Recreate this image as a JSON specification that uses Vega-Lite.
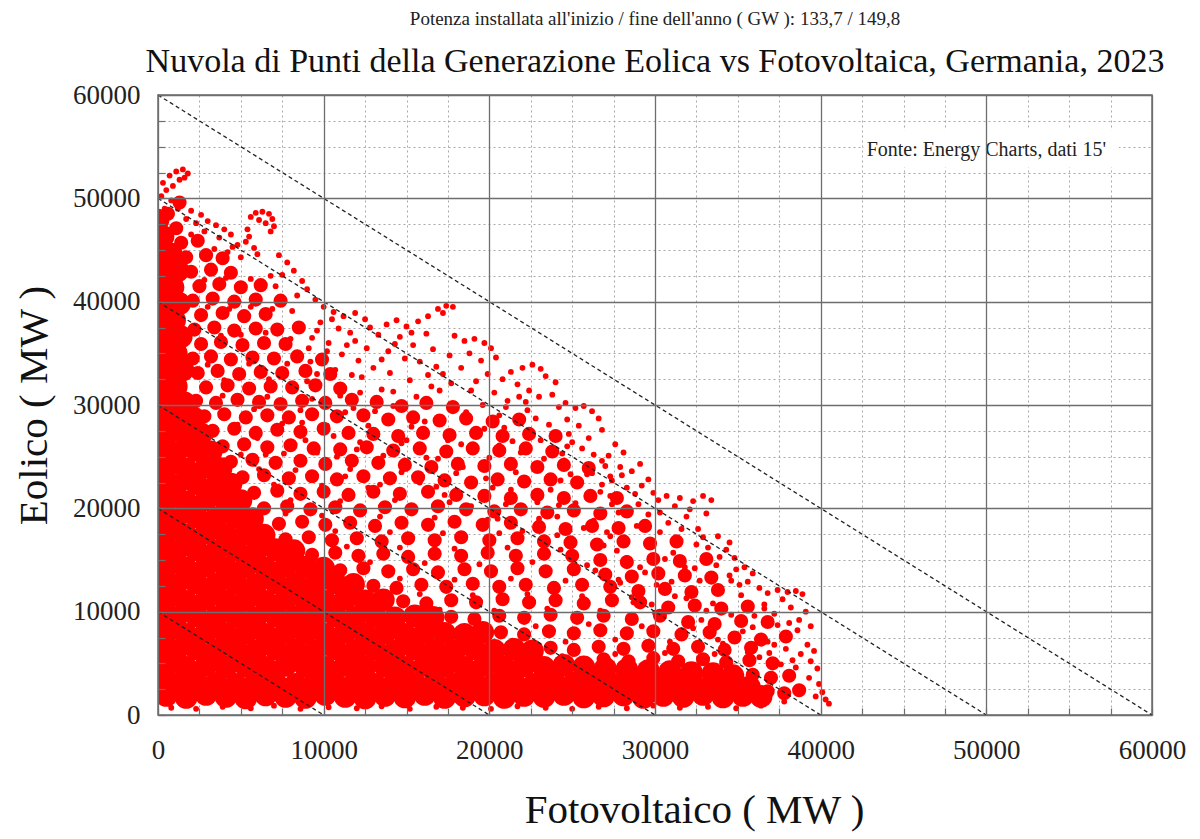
{
  "$schema": "https://vega.github.io/schema/vega-lite/v6.json",
  "autosize": {"type": "none"},
  "width": 994,
  "height": 620,
  "padding": {"left": 158, "top": 95, "right": 48, "bottom": 124},
  "background": "white",
  "title": {
    "text": "Potenza installata all'inizio / fine dell'anno ( GW ): 133,7 / 149,8",
    "subtitle": "Nuvola di Punti della Generazione Eolica vs Fotovoltaica, Germania, 2023",
    "font": "Liberation Serif",
    "fontSize": 19,
    "fontWeight": "normal",
    "color": "#222",
    "subtitleFont": "Liberation Serif",
    "subtitleFontSize": 34,
    "subtitleColor": "#111",
    "subtitlePadding": 16,
    "anchor": "middle",
    "offset": 2
  },
  "datasets": {
    "denso": [
      {"fv":500,"eo":1900},{"fv":1700,"eo":1700},{"fv":2900,"eo":2000},{"fv":4100,"eo":1800},{"fv":5300,"eo":1650},{"fv":6500,"eo":1950},{"fv":7700,"eo":1800},{"fv":8900,"eo":1700},{"fv":10100,"eo":2000},{"fv":11300,"eo":1800},{"fv":12500,"eo":1650},{"fv":13700,"eo":1900},{"fv":14900,"eo":1750},{"fv":16100,"eo":2000},{"fv":17300,"eo":1700},{"fv":18500,"eo":1850},{"fv":19700,"eo":1950},{"fv":20900,"eo":1700},{"fv":22100,"eo":1900},{"fv":23300,"eo":1800},{"fv":24500,"eo":2000},{"fv":25700,"eo":1750},{"fv":26900,"eo":1850},{"fv":28100,"eo":1950},{"fv":29300,"eo":1700},{"fv":30500,"eo":1900},{"fv":31700,"eo":1800},{"fv":32900,"eo":2000},{"fv":34100,"eo":1750},{"fv":35300,"eo":1900},{"fv":36400,"eo":1800},
      {"fv":0,"eo":3100},{"fv":1100,"eo":3000},{"fv":2300,"eo":3250},{"fv":3500,"eo":3050},{"fv":4700,"eo":2950},{"fv":5900,"eo":3200},{"fv":7100,"eo":3100},{"fv":8300,"eo":2950},{"fv":9500,"eo":3200},{"fv":10700,"eo":3050},{"fv":11900,"eo":3150},{"fv":13100,"eo":2950},{"fv":14300,"eo":3200},{"fv":15500,"eo":3050},{"fv":16700,"eo":3150},{"fv":17900,"eo":2950},{"fv":19100,"eo":3200},{"fv":20300,"eo":3050},{"fv":21500,"eo":3150},{"fv":22700,"eo":2950},{"fv":23900,"eo":3200},{"fv":25100,"eo":3050},{"fv":26300,"eo":3150},{"fv":27500,"eo":2950},{"fv":28700,"eo":3200},{"fv":29900,"eo":3050},{"fv":31100,"eo":3150},{"fv":32300,"eo":2950},{"fv":33500,"eo":3150},{"fv":34600,"eo":2900},{"fv":35700,"eo":2700},
      {"fv":500,"eo":4700},{"fv":1700,"eo":4600},{"fv":2900,"eo":4800},{"fv":4100,"eo":4650},{"fv":5300,"eo":4750},{"fv":6500,"eo":4600},{"fv":7700,"eo":4800},{"fv":8900,"eo":4700},{"fv":10100,"eo":4600},{"fv":11300,"eo":4800},{"fv":12500,"eo":4650},{"fv":13700,"eo":4750},{"fv":14900,"eo":4600},{"fv":16100,"eo":4800},{"fv":17300,"eo":4700},{"fv":18500,"eo":4600},{"fv":19700,"eo":4800},{"fv":20900,"eo":4650},{"fv":22100,"eo":4750},{"fv":23300,"eo":4600},{"fv":24500,"eo":4800},{"fv":25700,"eo":4650},{"fv":27000,"eo":4500},{"fv":28300,"eo":4400},{"fv":29600,"eo":4300},{"fv":30900,"eo":4200},{"fv":32200,"eo":4100},{"fv":33500,"eo":4000},{"fv":34700,"eo":3800},
      {"fv":0,"eo":6300},{"fv":1100,"eo":6200},{"fv":2300,"eo":6400},{"fv":3500,"eo":6250},{"fv":4700,"eo":6350},{"fv":5900,"eo":6200},{"fv":7100,"eo":6400},{"fv":8300,"eo":6300},{"fv":9500,"eo":6200},{"fv":10700,"eo":6400},{"fv":11900,"eo":6250},{"fv":13100,"eo":6350},{"fv":14300,"eo":6200},{"fv":15500,"eo":6400},{"fv":16700,"eo":6300},{"fv":17900,"eo":6200},{"fv":19100,"eo":6400},{"fv":20300,"eo":6250},{"fv":21500,"eo":6350},{"fv":22600,"eo":6200},
      {"fv":500,"eo":7900},{"fv":1700,"eo":7800},{"fv":2900,"eo":8000},{"fv":4100,"eo":7850},{"fv":5300,"eo":7950},{"fv":6500,"eo":7800},{"fv":7700,"eo":8000},{"fv":8900,"eo":7900},{"fv":10100,"eo":7800},{"fv":11300,"eo":8000},{"fv":12500,"eo":7850},{"fv":13700,"eo":7950},{"fv":14900,"eo":7800},{"fv":16100,"eo":8000},{"fv":17300,"eo":7900},{"fv":18500,"eo":7800},{"fv":19600,"eo":8000},
      {"fv":0,"eo":9500},{"fv":1100,"eo":9400},{"fv":2300,"eo":9600},{"fv":3500,"eo":9450},{"fv":4700,"eo":9550},{"fv":5900,"eo":9400},{"fv":7100,"eo":9600},{"fv":8300,"eo":9500},{"fv":9500,"eo":9400},{"fv":10700,"eo":9600},{"fv":11900,"eo":9450},{"fv":13100,"eo":9550},{"fv":14300,"eo":9400},{"fv":15500,"eo":9600},{"fv":16600,"eo":9450},
      {"fv":500,"eo":11100},{"fv":1700,"eo":11000},{"fv":2900,"eo":11200},{"fv":4100,"eo":11050},{"fv":5300,"eo":11150},{"fv":6500,"eo":11000},{"fv":7700,"eo":11200},{"fv":8900,"eo":11100},{"fv":10100,"eo":11000},{"fv":11300,"eo":11200},{"fv":12500,"eo":11050},{"fv":13600,"eo":11150},
      {"fv":0,"eo":12700},{"fv":1100,"eo":12600},{"fv":2300,"eo":12800},{"fv":3500,"eo":12650},{"fv":4700,"eo":12750},{"fv":5900,"eo":12600},{"fv":7100,"eo":12800},{"fv":8300,"eo":12700},{"fv":9500,"eo":12600},{"fv":10700,"eo":12800},{"fv":11800,"eo":12650},
      {"fv":500,"eo":14300},{"fv":1700,"eo":14200},{"fv":2900,"eo":14400},{"fv":4100,"eo":14250},{"fv":5300,"eo":14350},{"fv":6500,"eo":14200},{"fv":7700,"eo":14400},{"fv":8900,"eo":14300},{"fv":10000,"eo":14200},
      {"fv":0,"eo":15900},{"fv":1100,"eo":15800},{"fv":2300,"eo":16000},{"fv":3500,"eo":15850},{"fv":4700,"eo":15950},{"fv":5900,"eo":15800},{"fv":7100,"eo":16000},{"fv":8200,"eo":15900},
      {"fv":500,"eo":17500},{"fv":1700,"eo":17400},{"fv":2900,"eo":17600},{"fv":4100,"eo":17450},{"fv":5300,"eo":17550},{"fv":6400,"eo":17400},
      {"fv":0,"eo":19100},{"fv":1100,"eo":19000},{"fv":2300,"eo":19200},{"fv":3500,"eo":19050},{"fv":4700,"eo":19150},{"fv":5700,"eo":19000},
      {"fv":500,"eo":20700},{"fv":1700,"eo":20600},{"fv":2900,"eo":20800},{"fv":4100,"eo":20650},{"fv":5000,"eo":20750},
      {"fv":0,"eo":22300},{"fv":1100,"eo":22200},{"fv":2300,"eo":22400},{"fv":3500,"eo":22250},{"fv":4400,"eo":22350},
      {"fv":500,"eo":23900},{"fv":1700,"eo":23800},{"fv":2900,"eo":24000},{"fv":3800,"eo":23850},
      {"fv":0,"eo":25500},{"fv":1100,"eo":25400},{"fv":2300,"eo":25600},{"fv":3200,"eo":25450},
      {"fv":500,"eo":27100},{"fv":1700,"eo":27000},{"fv":2600,"eo":27200},
      {"fv":0,"eo":28700},{"fv":1100,"eo":28600},{"fv":2100,"eo":28800},
      {"fv":500,"eo":30300},{"fv":1600,"eo":30200},
      {"fv":0,"eo":31900},{"fv":1100,"eo":31800},
      {"fv":500,"eo":33500},{"fv":1500,"eo":33400},
      {"fv":0,"eo":35100},{"fv":1100,"eo":35000},
      {"fv":500,"eo":36700},{"fv":1400,"eo":36600},
      {"fv":0,"eo":38300},{"fv":1000,"eo":38200},
      {"fv":500,"eo":39900},{"fv":1300,"eo":39800},
      {"fv":0,"eo":41500},{"fv":900,"eo":41400},
      {"fv":400,"eo":43100},{"fv":1200,"eo":43000},
      {"fv":0,"eo":44700},{"fv":800,"eo":44600},
      {"fv":300,"eo":46300},{"fv":0,"eo":47900}
    ],
    "medio": [
      {"fv":3300,"eo":27500},{"fv":4600,"eo":27700},{"fv":5900,"eo":27300},{"fv":7200,"eo":27600},{"fv":8600,"eo":27400},{"fv":10000,"eo":27700},{"fv":11500,"eo":27300},
      {"fv":2800,"eo":28900},{"fv":4000,"eo":29100},{"fv":5300,"eo":28800},{"fv":6600,"eo":29000},{"fv":7900,"eo":28800},{"fv":9300,"eo":29100},{"fv":10800,"eo":28900},{"fv":12400,"eo":29000},
      {"fv":2300,"eo":30400},{"fv":3500,"eo":30200},{"fv":4800,"eo":30500},{"fv":6100,"eo":30300},{"fv":7400,"eo":30100},{"fv":8700,"eo":30400},{"fv":10100,"eo":30200},{"fv":11700,"eo":30500},{"fv":13200,"eo":30300},
      {"fv":2900,"eo":31700},{"fv":4200,"eo":31900},{"fv":5500,"eo":31600},{"fv":6800,"eo":31800},{"fv":8100,"eo":31700},{"fv":9500,"eo":31900},{"fv":11000,"eo":31600},
      {"fv":2400,"eo":33100},{"fv":3600,"eo":33300},{"fv":4900,"eo":33000},{"fv":6200,"eo":33200},{"fv":7500,"eo":33100},{"fv":8900,"eo":33300},{"fv":10400,"eo":33000},
      {"fv":2100,"eo":34500},{"fv":3200,"eo":34700},{"fv":4400,"eo":34400},{"fv":5700,"eo":34600},{"fv":7000,"eo":34500},{"fv":8400,"eo":34700},{"fv":9900,"eo":34400},
      {"fv":2600,"eo":35900},{"fv":3800,"eo":36100},{"fv":5100,"eo":35800},{"fv":6400,"eo":36000},{"fv":7700,"eo":35900},
      {"fv":2200,"eo":37300},{"fv":3400,"eo":37500},{"fv":4600,"eo":37200},{"fv":5900,"eo":37400},{"fv":7200,"eo":37300},{"fv":8500,"eo":37500},
      {"fv":2600,"eo":38700},{"fv":3900,"eo":38900},{"fv":5200,"eo":38600},{"fv":6500,"eo":38800},
      {"fv":2100,"eo":40100},{"fv":3300,"eo":40300},{"fv":4600,"eo":40000},{"fv":5900,"eo":40200},{"fv":7400,"eo":40100},
      {"fv":2500,"eo":41500},{"fv":3700,"eo":41700},{"fv":5000,"eo":41400},{"fv":6200,"eo":41600},
      {"fv":2000,"eo":42900},{"fv":3200,"eo":43100},{"fv":4400,"eo":42800},
      {"fv":1700,"eo":44300},{"fv":2900,"eo":44500},{"fv":3900,"eo":44200},
      {"fv":1400,"eo":45700},{"fv":2400,"eo":45900},{"fv":1100,"eo":47100},{"fv":600,"eo":48500},{"fv":1300,"eo":49600},
      {"fv":3900,"eo":26000},{"fv":5200,"eo":26200},{"fv":6600,"eo":25900},{"fv":8000,"eo":26100},{"fv":9400,"eo":25800},
      {"fv":4400,"eo":24500},{"fv":5700,"eo":24700},{"fv":7100,"eo":24400},{"fv":8600,"eo":24600},{"fv":10100,"eo":24300},{"fv":11700,"eo":24600},{"fv":13300,"eo":24400},
      {"fv":5100,"eo":23000},{"fv":6400,"eo":23200},{"fv":7900,"eo":22900},{"fv":9300,"eo":23100},{"fv":10800,"eo":22800},{"fv":12400,"eo":23100},{"fv":14000,"eo":22900},{"fv":15700,"eo":23000},
      {"fv":5800,"eo":21500},{"fv":7200,"eo":21700},{"fv":8600,"eo":21400},{"fv":10000,"eo":21600},{"fv":11500,"eo":21300},{"fv":13000,"eo":21600},{"fv":14600,"eo":21400},{"fv":16300,"eo":21600},{"fv":18000,"eo":21300},
      {"fv":6400,"eo":20000},{"fv":7800,"eo":20200},{"fv":9200,"eo":19900},{"fv":10700,"eo":20100},{"fv":12200,"eo":19800},{"fv":13700,"eo":20100},{"fv":15300,"eo":19900},{"fv":16900,"eo":20200},{"fv":18600,"eo":19900},
      {"fv":7300,"eo":18500},{"fv":8700,"eo":18700},{"fv":10100,"eo":18400},{"fv":11600,"eo":18600},{"fv":13100,"eo":18300},{"fv":14700,"eo":18600},{"fv":16300,"eo":18400},{"fv":17900,"eo":18700},{"fv":19600,"eo":18400},{"fv":21300,"eo":18600},
      {"fv":7700,"eo":17000},{"fv":9100,"eo":17200},{"fv":10500,"eo":16900},{"fv":12000,"eo":17100},{"fv":13500,"eo":16800},{"fv":15100,"eo":17100},{"fv":16700,"eo":16900},{"fv":18300,"eo":17200},{"fv":20000,"eo":16900},{"fv":21700,"eo":17100},{"fv":23300,"eo":16800},
      {"fv":9300,"eo":15500},{"fv":10700,"eo":15700},{"fv":12100,"eo":15400},{"fv":13600,"eo":15600},{"fv":15100,"eo":15300},{"fv":16700,"eo":15600},{"fv":18300,"eo":15400},{"fv":19900,"eo":15700},{"fv":21600,"eo":15400},{"fv":23300,"eo":15600},{"fv":25000,"eo":15400},
      {"fv":11000,"eo":14000},{"fv":12400,"eo":14200},{"fv":13900,"eo":13900},{"fv":15400,"eo":14100},{"fv":16900,"eo":13800},{"fv":18500,"eo":14100},{"fv":20100,"eo":13900},{"fv":21700,"eo":14200},{"fv":23400,"eo":13900},{"fv":25100,"eo":14100},
      {"fv":13000,"eo":12500},{"fv":14400,"eo":12300},{"fv":15900,"eo":12600},{"fv":17400,"eo":12400},{"fv":19000,"eo":12700},{"fv":20600,"eo":12400},{"fv":22200,"eo":12600},{"fv":23900,"eo":12300},{"fv":25600,"eo":12600},{"fv":27300,"eo":12400},
      {"fv":14800,"eo":11000},{"fv":16200,"eo":10800},{"fv":17700,"eo":11100},{"fv":19200,"eo":10900},{"fv":20800,"eo":11200},{"fv":22400,"eo":10900},{"fv":24000,"eo":11100},{"fv":25700,"eo":10800},{"fv":27400,"eo":11100},{"fv":29100,"eo":10900},
      {"fv":17700,"eo":9500},{"fv":19100,"eo":9300},{"fv":20600,"eo":9600},{"fv":22100,"eo":9400},{"fv":23700,"eo":9700},{"fv":25300,"eo":9400},{"fv":26900,"eo":9600},{"fv":28600,"eo":9300},{"fv":30300,"eo":9600},
      {"fv":20700,"eo":8000},{"fv":22100,"eo":7800},{"fv":23600,"eo":8100},{"fv":25100,"eo":7900},{"fv":26700,"eo":8200},{"fv":28300,"eo":7900},{"fv":29900,"eo":8100},{"fv":31600,"eo":7800},{"fv":33300,"eo":8000},
      {"fv":23700,"eo":6500},{"fv":25100,"eo":6300},{"fv":26600,"eo":6600},{"fv":28100,"eo":6400},{"fv":29600,"eo":6700},{"fv":31100,"eo":6400},{"fv":32600,"eo":6600},{"fv":34200,"eo":6300},{"fv":35800,"eo":6500},
      {"fv":26900,"eo":5400},{"fv":28400,"eo":5200},{"fv":29900,"eo":5500},{"fv":31400,"eo":5200},{"fv":32900,"eo":5400},{"fv":34300,"eo":5100},{"fv":35700,"eo":5300},{"fv":37100,"eo":5000},
      {"fv":35900,"eo":3900},{"fv":37000,"eo":3600},{"fv":38100,"eo":3800},{"fv":36800,"eo":2300},{"fv":37800,"eo":2100},{"fv":38700,"eo":2400},
      {"fv":14700,"eo":29900},{"fv":16200,"eo":30200},{"fv":17800,"eo":29800},
      {"fv":13900,"eo":28600},{"fv":15400,"eo":28800},{"fv":17000,"eo":28500},{"fv":18600,"eo":28700},{"fv":20200,"eo":28400},{"fv":21800,"eo":28600},
      {"fv":13000,"eo":27200},{"fv":14500,"eo":27000},{"fv":16000,"eo":27300},{"fv":17600,"eo":27100},{"fv":19200,"eo":27300},{"fv":20800,"eo":27000},{"fv":22400,"eo":27200},{"fv":24000,"eo":27000},
      {"fv":11000,"eo":25700},{"fv":12600,"eo":25900},{"fv":14200,"eo":25600},{"fv":15800,"eo":25800},{"fv":17400,"eo":25500},{"fv":19000,"eo":25800},{"fv":20600,"eo":25600},{"fv":22200,"eo":25800},{"fv":23800,"eo":25500},
      {"fv":14900,"eo":24200},{"fv":16500,"eo":24000},{"fv":18100,"eo":24300},{"fv":19700,"eo":24100},{"fv":21300,"eo":24300},{"fv":22900,"eo":24000},{"fv":24500,"eo":24200},{"fv":26000,"eo":23900},
      {"fv":17300,"eo":22700},{"fv":18900,"eo":22500},{"fv":20500,"eo":22800},{"fv":22100,"eo":22600},{"fv":23700,"eo":22800},{"fv":25300,"eo":22500},
      {"fv":19700,"eo":21200},{"fv":21300,"eo":21000},{"fv":22900,"eo":21300},{"fv":24500,"eo":21000},{"fv":26100,"eo":21200},{"fv":27700,"eo":21000},
      {"fv":20300,"eo":19700},{"fv":21900,"eo":19900},{"fv":23500,"eo":19600},{"fv":25100,"eo":19800},{"fv":26700,"eo":19500},{"fv":28300,"eo":19700},
      {"fv":23000,"eo":18200},{"fv":24600,"eo":18000},{"fv":26200,"eo":18300},{"fv":27800,"eo":18100},{"fv":29400,"eo":18300},
      {"fv":24900,"eo":16700},{"fv":26500,"eo":16500},{"fv":28100,"eo":16800},{"fv":29700,"eo":16600},{"fv":31300,"eo":16800},
      {"fv":26700,"eo":15000},{"fv":28300,"eo":14800},{"fv":29900,"eo":15100},{"fv":31500,"eo":14900},{"fv":33100,"eo":15100},
      {"fv":27000,"eo":13600},{"fv":28600,"eo":13400},{"fv":30200,"eo":13700},{"fv":31800,"eo":13500},{"fv":33400,"eo":13300},
      {"fv":29000,"eo":12000},{"fv":30600,"eo":12200},{"fv":32200,"eo":11900},{"fv":33800,"eo":12100},
      {"fv":30800,"eo":10400},{"fv":32400,"eo":10600},{"fv":34000,"eo":10300},{"fv":35600,"eo":10500},
      {"fv":32000,"eo":9000},{"fv":33600,"eo":8800},{"fv":35200,"eo":9100},{"fv":36800,"eo":9000},
      {"fv":34800,"eo":7500},{"fv":36400,"eo":7300},{"fv":37900,"eo":7600}
    ],
    "sparso": [
      {"fv":300,"eo":51500},{"fv":700,"eo":52200},{"fv":1100,"eo":52600},{"fv":1500,"eo":52800},{"fv":1800,"eo":52400},{"fv":1300,"eo":51800},{"fv":500,"eo":50800},{"fv":900,"eo":51200},{"fv":200,"eo":50200},{"fv":1600,"eo":52000},{"fv":800,"eo":49800},{"fv":400,"eo":49000},
      {"fv":1200,"eo":49000},{"fv":2000,"eo":48800},{"fv":2600,"eo":48400},{"fv":1700,"eo":48000},{"fv":2300,"eo":47600},{"fv":3000,"eo":47800},{"fv":3500,"eo":47400},{"fv":2800,"eo":46800},{"fv":4000,"eo":47000},{"fv":4400,"eo":46500},{"fv":3700,"eo":46200},
      {"fv":5600,"eo":48200},{"fv":5900,"eo":48600},{"fv":6300,"eo":48700},{"fv":6700,"eo":48500},{"fv":6900,"eo":48000},{"fv":7000,"eo":47300},{"fv":6500,"eo":47600},{"fv":6100,"eo":47900},{"fv":5400,"eo":47000},{"fv":6800,"eo":46800},
      {"fv":4800,"eo":45500},{"fv":5300,"eo":45800},{"fv":5800,"eo":45200},{"fv":4200,"eo":44800},{"fv":5000,"eo":44300},{"fv":6000,"eo":44600},{"fv":5500,"eo":46300},
      {"fv":7300,"eo":44500},{"fv":7800,"eo":43800},{"fv":8200,"eo":43000},{"fv":7500,"eo":42600},{"fv":8700,"eo":42000},{"fv":7100,"eo":41500},{"fv":9000,"eo":41200},{"fv":8400,"eo":40600},
      {"fv":9500,"eo":40200},{"fv":10000,"eo":39500},{"fv":10600,"eo":39000},{"fv":11200,"eo":38600},{"fv":11900,"eo":38900},{"fv":12500,"eo":38300},{"fv":9800,"eo":38000},{"fv":10900,"eo":37400},{"fv":11600,"eo":37000},{"fv":12800,"eo":37500},{"fv":13300,"eo":36800},{"fv":9300,"eo":36500},{"fv":10300,"eo":36000},
      {"fv":13800,"eo":37800},{"fv":14400,"eo":38200},{"fv":15000,"eo":37600},{"fv":15700,"eo":38100},{"fv":16300,"eo":38600},{"fv":16900,"eo":39300},{"fv":17400,"eo":39600},{"fv":17800,"eo":39500},{"fv":17200,"eo":38900},{"fv":14600,"eo":36600},{"fv":15400,"eo":35800},{"fv":16200,"eo":36900},{"fv":13900,"eo":35200},{"fv":14900,"eo":34500},
      {"fv":18500,"eo":36200},{"fv":19100,"eo":36400},{"fv":19700,"eo":36000},{"fv":20100,"eo":35500},{"fv":18800,"eo":35000},{"fv":19500,"eo":34300},{"fv":20400,"eo":34600},{"fv":18300,"eo":33600},{"fv":19900,"eo":33000},{"fv":20800,"eo":32500},{"fv":17600,"eo":34800},{"fv":16800,"eo":33700},
      {"fv":21300,"eo":33200},{"fv":22000,"eo":33600},{"fv":22600,"eo":33900},{"fv":23100,"eo":33500},{"fv":23400,"eo":32800},{"fv":21700,"eo":32000},{"fv":22400,"eo":31400},{"fv":23000,"eo":30800},{"fv":21100,"eo":30400},{"fv":23800,"eo":31000},{"fv":22300,"eo":29500},{"fv":20600,"eo":29000},{"fv":24200,"eo":29800},
      {"fv":24600,"eo":30200},{"fv":25200,"eo":29700},{"fv":25700,"eo":29900},{"fv":26200,"eo":29400},{"fv":26600,"eo":28700},{"fv":25400,"eo":28000},{"fv":24800,"eo":27200},{"fv":26000,"eo":26800},{"fv":26800,"eo":27600},{"fv":25600,"eo":25800},{"fv":24400,"eo":25300},{"fv":27200,"eo":25100},
      {"fv":27600,"eo":26200},{"fv":28100,"eo":25400},{"fv":27900,"eo":24000},{"fv":28600,"eo":23600},{"fv":29100,"eo":24300},{"fv":29600,"eo":22800},{"fv":28300,"eo":22000},{"fv":27400,"eo":22700},{"fv":29900,"eo":21500},{"fv":30200,"eo":20800},{"fv":29000,"eo":20400},
      {"fv":30700,"eo":21200},{"fv":31500,"eo":21000},{"fv":32300,"eo":20700},{"fv":32900,"eo":21200},{"fv":33400,"eo":20800},{"fv":33100,"eo":19500},{"fv":31900,"eo":19200},{"fv":30800,"eo":18600},{"fv":32600,"eo":18000},{"fv":33800,"eo":17300},{"fv":31300,"eo":16800},{"fv":33200,"eo":16200},
      {"fv":34300,"eo":16000},{"fv":34800,"eo":15200},{"fv":35400,"eo":14300},{"fv":35900,"eo":13700},{"fv":34500,"eo":13500},{"fv":33700,"eo":14500},{"fv":35100,"eo":12600},{"fv":36300,"eo":12300},{"fv":34000,"eo":12000},
      {"fv":36800,"eo":11800},{"fv":37400,"eo":12100},{"fv":38000,"eo":11900},{"fv":38500,"eo":12000},{"fv":38900,"eo":11700},{"fv":37700,"eo":11200},{"fv":36600,"eo":10700},{"fv":38200,"eo":10400},{"fv":39100,"eo":10000},{"fv":37200,"eo":9800},{"fv":36000,"eo":9600},{"fv":38700,"eo":9200},{"fv":39400,"eo":8600},{"fv":38600,"eo":8200},{"fv":37400,"eo":8700},{"fv":35600,"eo":10800},
      {"fv":39200,"eo":6800},{"fv":39600,"eo":6200},{"fv":38800,"eo":5900},{"fv":39400,"eo":5200},{"fv":39800,"eo":4500},{"fv":38500,"eo":4600},{"fv":39300,"eo":3600},{"fv":39900,"eo":3000},{"fv":40100,"eo":2200},{"fv":40300,"eo":1500},{"fv":40500,"eo":1100},{"fv":39700,"eo":1800},{"fv":38900,"eo":2600},
      {"fv":9200,"eo":34200},{"fv":10700,"eo":33400},{"fv":12300,"eo":32700},{"fv":13500,"eo":31500},{"fv":11800,"eo":29700},{"fv":14200,"eo":29900},{"fv":15600,"eo":30800},{"fv":17000,"eo":31400},{"fv":16100,"eo":28400},{"fv":18600,"eo":29300},{"fv":19700,"eo":27700},{"fv":17500,"eo":26600},{"fv":20600,"eo":26100},{"fv":21900,"eo":25400},{"fv":23100,"eo":26600},{"fv":22700,"eo":24200},{"fv":24300,"eo":22700},{"fv":25900,"eo":23300},{"fv":26700,"eo":21600},{"fv":25200,"eo":20500},{"fv":27800,"eo":19600},{"fv":28900,"eo":18300},{"fv":27100,"eo":17700},{"fv":29800,"eo":16600},{"fv":30600,"eo":15100},{"fv":31800,"eo":14300},{"fv":32700,"eo":13000},{"fv":30100,"eo":12600},{"fv":31200,"eo":11500},{"fv":33500,"eo":10800},{"fv":34600,"eo":9700},{"fv":32800,"eo":9200},{"fv":35300,"eo":8100},{"fv":36800,"eo":7100},{"fv":37900,"eo":6400},{"fv":36300,"eo":5600},{"fv":37600,"eo":4900},{"fv":34100,"eo":6900},{"fv":35600,"eo":6100},
      {"fv":13000,"eo":27600},{"fv":14700,"eo":26300},{"fv":16200,"eo":24900},{"fv":18400,"eo":24000},{"fv":19800,"eo":22900},{"fv":21300,"eo":21800},{"fv":22900,"eo":20600},{"fv":24100,"eo":19200},{"fv":25700,"eo":18100},{"fv":26900,"eo":16400},{"fv":28300,"eo":15200},{"fv":29400,"eo":13800},{"fv":27400,"eo":12400},{"fv":28700,"eo":10900},{"fv":30000,"eo":9900},{"fv":15800,"eo":22500},{"fv":17300,"eo":21300},{"fv":18900,"eo":20200},{"fv":20500,"eo":19000},{"fv":22000,"eo":17800},{"fv":23500,"eo":16700},{"fv":25000,"eo":15300},{"fv":26400,"eo":14000},{"fv":27800,"eo":13100},{"fv":12000,"eo":25700},{"fv":10600,"eo":27000},{"fv":8700,"eo":28300},{"fv":11300,"eo":23100},{"fv":12700,"eo":22000},{"fv":9600,"eo":25400},{"fv":6500,"eo":25200},{"fv":5000,"eo":22800},{"fv":7700,"eo":19500},{"fv":3200,"eo":21400},{"fv":2600,"eo":24200},
      {"fv":6000,"eo":26800},{"fv":8900,"eo":26600},{"fv":12200,"eo":26400},{"fv":15000,"eo":26600},{"fv":18300,"eo":26200},{"fv":21400,"eo":26500},{"fv":24700,"eo":26000},
      {"fv":5000,"eo":25200},{"fv":7600,"eo":25300},{"fv":10800,"eo":25000},{"fv":13600,"eo":25100},{"fv":16900,"eo":24800},{"fv":20000,"eo":24900},{"fv":23300,"eo":24800},{"fv":26800,"eo":24600},
      {"fv":6100,"eo":23800},{"fv":8300,"eo":23700},{"fv":11600,"eo":23800},{"fv":14700,"eo":23500},{"fv":18000,"eo":23400},{"fv":21600,"eo":23500},{"fv":24900,"eo":23300},{"fv":27300,"eo":23100},
      {"fv":7000,"eo":22300},{"fv":9900,"eo":22200},{"fv":13400,"eo":22300},{"fv":16800,"eo":22100},{"fv":20200,"eo":22000},{"fv":23700,"eo":21800},{"fv":26800,"eo":22300},
      {"fv":8000,"eo":20800},{"fv":11000,"eo":20700},{"fv":14300,"eo":20800},{"fv":17600,"eo":20600},{"fv":21000,"eo":20400},{"fv":24200,"eo":20300},{"fv":27400,"eo":20400},
      {"fv":9900,"eo":19300},{"fv":13400,"eo":19200},{"fv":16700,"eo":19100},{"fv":19900,"eo":18900},{"fv":23000,"eo":19000},{"fv":26300,"eo":18800},{"fv":29600,"eo":19400},
      {"fv":10700,"eo":17800},{"fv":14000,"eo":17700},{"fv":17200,"eo":17600},{"fv":20600,"eo":17600},{"fv":24100,"eo":17400},{"fv":27300,"eo":17300},{"fv":30300,"eo":17700},
      {"fv":11400,"eo":16300},{"fv":14600,"eo":16200},{"fv":17900,"eo":16100},{"fv":21100,"eo":16200},{"fv":24300,"eo":16000},{"fv":27700,"eo":15900},{"fv":31100,"eo":15700},
      {"fv":12800,"eo":14800},{"fv":16100,"eo":14700},{"fv":19400,"eo":14600},{"fv":22600,"eo":14800},{"fv":25900,"eo":14500},{"fv":29100,"eo":14300},{"fv":32400,"eo":14200},
      {"fv":14600,"eo":13200},{"fv":17900,"eo":13100},{"fv":21300,"eo":13200},{"fv":24600,"eo":13000},{"fv":27900,"eo":12800},{"fv":31000,"eo":12900},{"fv":34600,"eo":13000},
      {"fv":15800,"eo":11700},{"fv":19000,"eo":11600},{"fv":22300,"eo":11700},{"fv":25600,"eo":11500},{"fv":28600,"eo":11400},{"fv":31900,"eo":11300},{"fv":35200,"eo":11600},
      {"fv":17000,"eo":10200},{"fv":20300,"eo":10100},{"fv":23500,"eo":10300},{"fv":26700,"eo":10100},{"fv":29800,"eo":10700},{"fv":33100,"eo":10100},{"fv":36600,"eo":10300},
      {"fv":19600,"eo":8700},{"fv":22800,"eo":8600},{"fv":26000,"eo":8800},{"fv":29200,"eo":8600},{"fv":32300,"eo":8400},{"fv":35900,"eo":8500},{"fv":38100,"eo":8900},
      {"fv":21400,"eo":7200},{"fv":24600,"eo":7100},{"fv":27600,"eo":7300},{"fv":30900,"eo":7100},{"fv":33800,"eo":7300},{"fv":37200,"eo":6800},
      {"fv":24400,"eo":5700},{"fv":27600,"eo":5900},{"fv":30600,"eo":6000},{"fv":33600,"eo":5900},{"fv":36900,"eo":6000},{"fv":38300,"eo":5300},
      {"fv":3000,"eo":39500},{"fv":4300,"eo":39300},{"fv":5600,"eo":39500},{"fv":6900,"eo":39300},{"fv":8100,"eo":39100},{"fv":2800,"eo":42100},{"fv":4100,"eo":42300},{"fv":5600,"eo":42200},{"fv":6800,"eo":42500},{"fv":3400,"eo":45100},{"fv":4500,"eo":45300},{"fv":2000,"eo":46500},{"fv":3800,"eo":36700},{"fv":5000,"eo":36800},{"fv":6500,"eo":37000},{"fv":8000,"eo":36400},{"fv":9100,"eo":35500},{"fv":3000,"eo":33900},{"fv":5500,"eo":34000},{"fv":7800,"eo":34000},{"fv":9600,"eo":33000},{"fv":11700,"eo":32900},{"fv":4000,"eo":32400},{"fv":6700,"eo":32500},{"fv":9000,"eo":32300},{"fv":12200,"eo":31200},{"fv":14200,"eo":31300},{"fv":3900,"eo":30900},{"fv":6600,"eo":30800},{"fv":9300,"eo":30600},{"fv":11000,"eo":30900},{"fv":5800,"eo":29600},{"fv":8600,"eo":29500},{"fv":11300,"eo":29300},{"fv":13100,"eo":29400},{"fv":4800,"eo":28100},{"fv":7500,"eo":28200},{"fv":10200,"eo":28000},{"fv":12700,"eo":28000},{"fv":15300,"eo":27900},
      {"fv":800,"eo":700},{"fv":2300,"eo":600},{"fv":3900,"eo":800},{"fv":5600,"eo":650},{"fv":7000,"eo":900},{"fv":8600,"eo":600},{"fv":10300,"eo":750},{"fv":12000,"eo":650},{"fv":13500,"eo":850},{"fv":15200,"eo":600},{"fv":16800,"eo":800},{"fv":18400,"eo":700},{"fv":20100,"eo":600},{"fv":21700,"eo":850},{"fv":23400,"eo":700},{"fv":25000,"eo":600},{"fv":26600,"eo":800},{"fv":28300,"eo":650},{"fv":29900,"eo":900},{"fv":31500,"eo":700},{"fv":33200,"eo":800},{"fv":34900,"eo":650},{"fv":36400,"eo":900},{"fv":37800,"eo":1300},
      {"fv":10200,"eo":35200},{"fv":11400,"eo":35800},{"fv":12100,"eo":34300},{"fv":13000,"eo":33600},{"fv":11100,"eo":34900},{"fv":12600,"eo":35500},{"fv":9600,"eo":37200},{"fv":10500,"eo":38300},{"fv":11900,"eo":36200},{"fv":13500,"eo":34400},
      {"fv":14000,"eo":33100},{"fv":15200,"eo":32400},{"fv":16300,"eo":32900},{"fv":15800,"eo":34200},{"fv":17200,"eo":33000},{"fv":16600,"eo":35400},{"fv":17900,"eo":36700},{"fv":15300,"eo":37000},{"fv":14300,"eo":35900},{"fv":17700,"eo":32100},{"fv":18900,"eo":31400},{"fv":16500,"eo":31800},
      {"fv":19200,"eo":32300},{"fv":20300,"eo":31200},{"fv":21800,"eo":30800},{"fv":19600,"eo":30000},{"fv":21000,"eo":29800},{"fv":22800,"eo":28700},{"fv":23600,"eo":28100},{"fv":20900,"eo":27800},{"fv":22200,"eo":30300},{"fv":24000,"eo":32200},
      {"fv":25000,"eo":26400},{"fv":26300,"eo":25200},{"fv":27000,"eo":24100},{"fv":28800,"eo":21400},{"fv":26200,"eo":23400},{"fv":28000,"eo":23200},{"fv":27300,"eo":21200},{"fv":29200,"eo":22200},{"fv":24700,"eo":28600},
      {"fv":31200,"eo":20200},{"fv":32100,"eo":19900},{"fv":30300,"eo":19600},{"fv":31600,"eo":18000},{"fv":32900,"eo":17200},{"fv":34500,"eo":16700},{"fv":33900,"eo":15300},{"fv":34900,"eo":14100},{"fv":32500,"eo":16500},{"fv":35600,"eo":12900}
    ],
    "diagonali": [
      {"x":0,"y":10000,"x2":10000,"y2":0},
      {"x":0,"y":20000,"x2":20000,"y2":0},
      {"x":0,"y":30000,"x2":30000,"y2":0},
      {"x":0,"y":40000,"x2":40000,"y2":0},
      {"x":0,"y":50000,"x2":50000,"y2":0},
      {"x":0,"y":60000,"x2":60000,"y2":0}
    ]
  },
  "layer": [
    {
      "data": {"name": "denso"},
      "mark": {"type": "circle", "color": "#ff0000", "opacity": 1, "size": 520, "clip": true},
      "encoding": {
        "x": {
          "field": "fv", "type": "quantitative",
          "scale": {"domain": [0, 60000], "nice": false},
          "axis": {
            "orient": "bottom", "zindex": 0,
            "values": [2500,5000,7500,12500,15000,17500,22500,25000,27500,32500,35000,37500,42500,45000,47500,52500,55000,57500],
            "labels": false, "ticks": false, "domain": false, "title": null,
            "grid": true, "gridColor": "#a8a8a8", "gridDash": [2, 3], "gridWidth": 1
          }
        },
        "y": {
          "field": "eo", "type": "quantitative",
          "scale": {"domain": [0, 60000], "nice": false},
          "axis": {
            "orient": "left", "zindex": 0,
            "values": [2500,5000,7500,12500,15000,17500,22500,25000,27500,32500,35000,37500,42500,45000,47500,52500,55000,57500],
            "labels": false, "ticks": false, "domain": false, "title": null,
            "grid": true, "gridColor": "#a8a8a8", "gridDash": [2, 3], "gridWidth": 1
          }
        }
      }
    },
    {
      "data": {"name": "medio"},
      "mark": {"type": "circle", "color": "#ff0000", "opacity": 1, "size": 200, "clip": true},
      "encoding": {
        "x": {"field": "fv", "type": "quantitative", "scale": {"domain": [0, 60000], "nice": false}, "axis": null},
        "y": {"field": "eo", "type": "quantitative", "scale": {"domain": [0, 60000], "nice": false}, "axis": null}
      }
    },
    {
      "data": {"name": "sparso"},
      "mark": {"type": "circle", "color": "#ff0000", "opacity": 1, "size": 34, "clip": true},
      "encoding": {
        "x": {
          "field": "fv", "type": "quantitative",
          "scale": {"domain": [0, 60000], "nice": false},
          "axis": {
            "orient": "bottom", "zindex": 1,
            "values": [0,2500,5000,7500,10000,12500,15000,17500,20000,22500,25000,27500,30000,32500,35000,37500,40000,42500,45000,47500,50000,52500,55000,57500,60000],
            "format": "d",
            "labelExpr": "datum.value % 10000 === 0 ? datum.label : ''",
            "labelFont": "Liberation Serif", "labelFontSize": 27, "labelColor": "#222",
            "labelPadding": 29, "labelOverlap": false, "labelFlush": false,
            "domain": false,
            "ticks": true, "tickSize": -7, "tickColor": "#6e6e6e", "tickWidth": 1.2,
            "grid": true, "gridColor": "#6e6e6e", "gridWidth": 1.3,
            "gridOpacity": {"condition": {"test": "datum.value % 10000 === 0", "value": 1}, "value": 0},
            "title": "Fotovoltaico ( MW )",
            "titleFont": "Liberation Serif", "titleFontSize": 41, "titleFontWeight": "normal", "titleColor": "#111",
            "titleX": 536, "titleY": 107, "titleBaseline": "alphabetic", "titleAlign": "center"
          }
        },
        "y": {
          "field": "eo", "type": "quantitative",
          "scale": {"domain": [0, 60000], "nice": false},
          "axis": {
            "orient": "left", "zindex": 1,
            "values": [0,2500,5000,7500,10000,12500,15000,17500,20000,22500,25000,27500,30000,32500,35000,37500,40000,42500,45000,47500,50000,52500,55000,57500,60000],
            "format": "d",
            "labelExpr": "datum.value % 10000 === 0 ? datum.label : ''",
            "labelFont": "Liberation Serif", "labelFontSize": 27, "labelColor": "#222",
            "labelPadding": 25, "labelOverlap": false, "labelFlush": false,
            "domain": false,
            "ticks": true, "tickSize": -7, "tickColor": "#6e6e6e", "tickWidth": 1.2,
            "grid": true, "gridColor": "#6e6e6e", "gridWidth": 1.3,
            "gridOpacity": {"condition": {"test": "datum.value % 10000 === 0", "value": 1}, "value": 0},
            "title": "Eolico ( MW )",
            "titleFont": "Liberation Serif", "titleFontSize": 41, "titleFontWeight": "normal", "titleColor": "#111",
            "titleX": -112, "titleY": 310, "titleAngle": -90, "titleBaseline": "alphabetic", "titleAlign": "center"
          }
        }
      }
    },
    {
      "data": {"name": "diagonali"},
      "mark": {"type": "rule", "color": "#222", "strokeWidth": 1.3, "strokeDash": [4, 3]},
      "encoding": {
        "x": {"field": "x", "type": "quantitative", "scale": {"domain": [0, 60000], "nice": false}, "axis": null},
        "y": {"field": "y", "type": "quantitative", "scale": {"domain": [0, 60000], "nice": false}, "axis": null},
        "x2": {"field": "x2"},
        "y2": {"field": "y2"}
      }
    },
    {
      "data": {"values": [{}]},
      "mark": {"type": "rect", "color": "white"},
      "encoding": {
        "x": {"datum": 42600, "type": "quantitative", "scale": {"domain": [0, 60000], "nice": false}, "axis": null},
        "x2": {"datum": 58000},
        "y": {"datum": 53000, "type": "quantitative", "scale": {"domain": [0, 60000], "nice": false}, "axis": null},
        "y2": {"datum": 56600}
      }
    },
    {
      "data": {"values": [{}]},
      "mark": {"type": "text", "text": "Fonte: Energy Charts, dati 15'", "font": "Liberation Serif", "fontSize": 20, "color": "#222", "align": "center", "baseline": "middle"},
      "encoding": {
        "x": {"datum": 50000, "type": "quantitative", "scale": {"domain": [0, 60000], "nice": false}, "axis": null},
        "y": {"datum": 54700, "type": "quantitative", "scale": {"domain": [0, 60000], "nice": false}, "axis": null}
      }
    }
  ],
  "resolve": {"axis": {"x": "independent", "y": "independent"}},
  "config": {
    "view": {"stroke": "#6e6e6e", "strokeWidth": 1.5}
  }
}
